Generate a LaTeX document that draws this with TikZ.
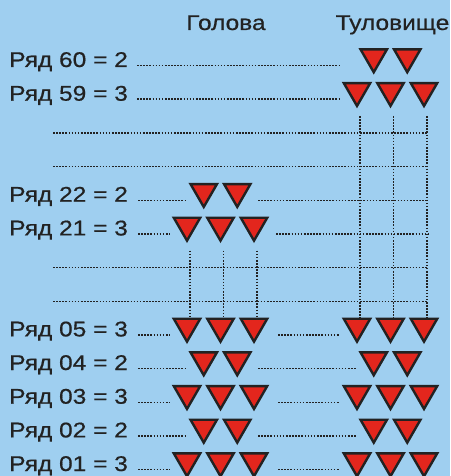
\documentclass[tikz,border=0pt]{standalone}
\usepackage{fontspec}
\setmainfont{Liberation Sans}[FakeStretch=1.15,FakeBold=0.6]
\usetikzlibrary{shapes.geometric}
\definecolor{rowsky}{HTML}{9FCFF0}
\definecolor{rowred}{HTML}{E3261D}
\definecolor{rowink}{HTML}{222222}

\begin{document}
\begin{tikzpicture}[x=1pt, y=-1pt,
  rowlabel/.style={anchor=base west, inner sep=0pt, font=\fontsize{21.3}{25}\selectfont, text=rowink},
  colhead/.style={anchor=base, inner sep=0pt, font=\fontsize{21.3}{25}\selectfont, text=rowink},
  tri/.style={regular polygon, regular polygon sides=3, shape border rotate=180, minimum size=30.5pt, inner sep=0pt, outer sep=0pt, draw=rowink, line width=2.4pt, fill=rowred},
  leader/.style={draw=rowink, line width=1.4pt, dash pattern=on 1.6pt off 1.5pt}
]
\useasboundingbox (0,0) rectangle (450,476);
\fill[rowsky] (0,0) rectangle (450,476);
\clip (0,0) rectangle (450,476);
% column heads
\node[colhead] (head) at (226,30) {Голова};
\node[colhead] (body) at (392.5,30) {Туловище};
% row labels
\node[rowlabel] (r60) at (9,67) {Ряд 60 = 2};
\node[rowlabel] (r59) at (9,100.7) {Ряд 59 = 3};
\node[rowlabel] (r22) at (9,201.7) {Ряд 22 = 2};
\node[rowlabel] (r21) at (9,235.4) {Ряд 21 = 3};
\node[rowlabel] (r05) at (9,336.4) {Ряд 05 = 3};
\node[rowlabel] (r04) at (9,370) {Ряд 04 = 2};
\node[rowlabel] (r03) at (9,403.7) {Ряд 03 = 3};
\node[rowlabel] (r02) at (9,437.4) {Ряд 02 = 2};
\node[rowlabel] (r01) at (9,471) {Ряд 01 = 3};
% guide lines
\draw[leader] (53,132.8) -- (428,132.8);
\draw[leader] (53,166.5) -- (428,166.5);
\draw[leader] (53,267.5) -- (428,267.5);
\draw[leader] (53,301.2) -- (428,301.2);
\draw[leader] (137,65.5) -- (340,65.5);
\draw[leader] (137,99.2) -- (340,99.2);
\draw[leader] (138,200.2) -- (186,200.2);
\draw[leader] (258,200.2) -- (428,200.2);
\draw[leader] (138,233.9) -- (170,233.9);
\draw[leader] (276,233.9) -- (428,233.9);
\draw[leader] (138,334.9) -- (170,334.9);
\draw[leader] (278,334.9) -- (340,334.9);
\draw[leader] (138,368.5) -- (187,368.5);
\draw[leader] (258,368.5) -- (357,368.5);
\draw[leader] (138,402.2) -- (170,402.2);
\draw[leader] (278,402.2) -- (340,402.2);
\draw[leader] (138,435.9) -- (187,435.9);
\draw[leader] (258,435.9) -- (357,435.9);
\draw[leader] (138,469.5) -- (170,469.5);
\draw[leader] (278,469.5) -- (340,469.5);
% torso
\node[tri] (t60a) at (373.75,57) {};
\node[tri] (t60b) at (407.25,57) {};
\node[tri] (t59a) at (357,90.7) {};
\node[tri] (t59b) at (390.5,90.7) {};
\node[tri] (t59c) at (424,90.7) {};
\node[tri] (t05a) at (357,326.4) {};
\node[tri] (t05b) at (390.5,326.4) {};
\node[tri] (t05c) at (424,326.4) {};
\node[tri] (t04a) at (373.75,360) {};
\node[tri] (t04b) at (407.25,360) {};
\node[tri] (t03a) at (357,393.7) {};
\node[tri] (t03b) at (390.5,393.7) {};
\node[tri] (t03c) at (424,393.7) {};
\node[tri] (t02a) at (373.75,427.4) {};
\node[tri] (t02b) at (407.25,427.4) {};
\node[tri] (t01a) at (357,461) {};
\node[tri] (t01b) at (390.5,461) {};
\node[tri] (t01c) at (424,461) {};
% head
\node[tri] (h22a) at (203.75,191.7) {};
\node[tri] (h22b) at (237.25,191.7) {};
\node[tri] (h21a) at (187,225.4) {};
\node[tri] (h21b) at (220.5,225.4) {};
\node[tri] (h21c) at (254,225.4) {};
\node[tri] (h05a) at (187,326.4) {};
\node[tri] (h05b) at (220.5,326.4) {};
\node[tri] (h05c) at (254,326.4) {};
\node[tri] (h04a) at (203.75,360) {};
\node[tri] (h04b) at (237.25,360) {};
\node[tri] (h03a) at (187,393.7) {};
\node[tri] (h03b) at (220.5,393.7) {};
\node[tri] (h03c) at (254,393.7) {};
\node[tri] (h02a) at (203.75,427.4) {};
\node[tri] (h02b) at (237.25,427.4) {};
\node[tri] (h01a) at (187,461) {};
\node[tri] (h01b) at (220.5,461) {};
\node[tri] (h01c) at (254,461) {};
% skipped rows
\draw[leader] ([xshift=3pt,yshift=-10pt]t59a.south) -- ([xshift=3pt]t05a.north);
\draw[leader] ([xshift=3pt,yshift=-10pt]t59b.south) -- ([xshift=3pt]t05b.north);
\draw[leader] ([xshift=3pt,yshift=-10pt]t59c.south) -- ([xshift=3pt]t05c.north);
\draw[leader] ([xshift=3pt,yshift=-10pt]h21a.south) -- ([xshift=3pt]h05a.north);
\draw[leader] ([xshift=3pt,yshift=-10pt]h21b.south) -- ([xshift=3pt]h05b.north);
\draw[leader] ([xshift=3pt,yshift=-10pt]h21c.south) -- ([xshift=3pt]h05c.north);
\end{tikzpicture}
\end{document}
